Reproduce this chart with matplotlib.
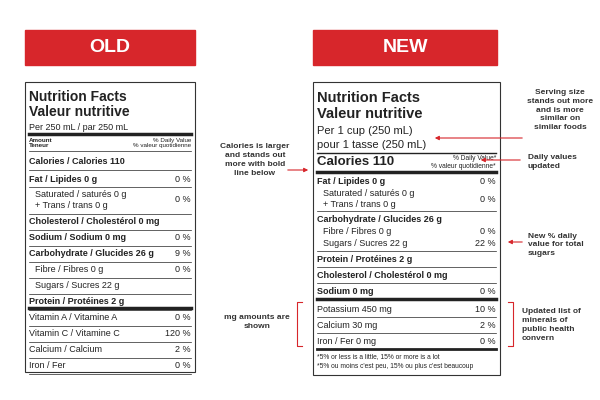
import matplotlib
matplotlib.use("Agg")
import matplotlib.pyplot as plt
from matplotlib.patches import Rectangle

banners = ["OLD", "NEW"]
old_rows = [("Fat / Lipides 0 g", "0 %"), ("Cholesterol / Cholestérol 0 mg", ""),
            ("Sodium / Sodium 0 mg", "0 %"), ("Carbohydrate / Glucides 26 g", "9 %"),
            ("Fibre / Fibres 0 g", "0 %"), ("Sugars / Sucres 22 g", ""),
            ("Protein / Protéines 2 g", "")]
old_vits = [("Vitamin A / Vitamine A", "0 %"), ("Vitamin C / Vitamine C", "120 %"),
            ("Calcium / Calcium", "2 %"), ("Iron / Fer", "0 %")]
new_rows = [("Carbohydrate / Glucides 26 g", ""), ("Fibre / Fibres 0 g", "0 %"),
            ("Sugars / Sucres 22 g", "22 %"), ("Protein / Protéines 2 g", ""),
            ("Cholesterol / Cholestérol 0 mg", ""), ("Sodium 0 mg", "0 %")]
new_mins = [("Potassium 450 mg", "10 %"), ("Calcium 30 mg", "2 %"), ("Iron / Fer 0 mg", "0 %")]
notes = ["Serving size\nstands out more\nand is more\nsimilar on\nsimilar foods", "Daily values\nupdated",
         "New % daily\nvalue for total\nsugars", "Updated list of\nminerals of\npublic health\nconvern",
         "Calories is larger\nand stands out\nmore with bold\nline below", "mg amounts are\nshown"]

fig = plt.figure(figsize=(6, 4), dpi=100)
ax = fig.add_axes([0, 0, 1, 1])
ax.set_xlim(0, 600); ax.set_ylim(400, 0); ax.axis("off")
RED = "#d7262b"

def T(x, y, s, size=6.5, w="normal", ha="left", c="#222", **k):
    ax.text(x, y, s, fontsize=size, fontweight=w, ha=ha, va="center", color=c, family="Liberation Sans", **k)

def L(x0, x1, y, lw=0.5):
    ax.plot([x0, x1], [y, y], color="#222", lw=lw)

for (x0, x1), b in zip([(25, 195), (313, 497)], banners):
    ax.add_patch(Rectangle((x0, 30), x1 - x0, 35, color=RED))
    T((x0 + x1) / 2, 48, b, size=14, w="bold", ha="center", c="white")

# OLD label
a, b = 25, 195
ax.add_patch(Rectangle((a, 82), b - a, 290, fill=False, ec="#333", lw=0.8))
a += 4; b -= 4
T(a, 97, "Nutrition Facts", 10, "bold"); T(a, 112, "Valeur nutritive", 10, "bold")
T(a, 127, "Per 250 mL / par 250 mL", 6.5)
L(a, b, 134, 2.5)
T(a, 143, "Amount\nTeneur", 4.5, "bold"); T(b, 143, "% Daily Value\n% valeur quotidienne", 4.5, ha="right")
L(a, b, 151)
T(a, 162, "Calories / Calories 110", 6.5, "bold"); L(a, b, 170)
T(a, 179, old_rows[0][0], 6.5, "bold"); T(b, 179, old_rows[0][1], 6.5, ha="right"); L(a, b, 187)
T(a + 6, 200, "Saturated / saturés 0 g\n+ Trans / trans 0 g", 6.5); T(b, 200, "0 %", 6.5, ha="right"); L(a, b, 214)
y = 222
for i, (n, v) in enumerate(old_rows[1:]):
    ind = 6 if n.startswith(("Fibre", "Sugars")) else 0
    T(a + ind, y, n, 6.5, "normal" if ind else "bold"); T(b, y, v, 6.5, ha="right")
    L(a, b, y + 8); y += 16
L(a, b, 308, 2.5)
y = 318
for n, v in old_vits:
    T(a, y, n, 6.5); T(b, y, v, 6.5, ha="right"); L(a, b, y + 8); y += 16

# NEW label
a, b = 313, 500
ax.add_patch(Rectangle((a, 82), b - a, 293, fill=False, ec="#333", lw=0.8))
a += 4; b -= 4
T(a, 98, "Nutrition Facts", 10.5, "bold"); T(a, 114, "Valeur nutritive", 10.5, "bold")
T(a, 131, "Per 1 cup (250 mL)", 8); T(a, 145, "pour 1 tasse (250 mL)", 8)
L(a, b, 153, 1)
T(a, 162, "Calories 110", 9.5, "bold")
T(b, 159, "% Daily Value*", 4.8, ha="right"); T(b, 166, "% valeur quotidienne*", 4.8, ha="right")
L(a, b, 172, 2.5)
T(a, 181, "Fat / Lipides 0 g", 6.5, "bold"); T(b, 181, "0 %", 6.5, ha="right")
T(a + 6, 199, "Saturated / saturés 0 g\n+ Trans / trans 0 g", 6.5); T(b, 199, "0 %", 6.5, ha="right"); L(a, b, 211)
y = 219
for n, v in new_rows:
    ind = 6 if n.startswith(("Fibre", "Sugars")) else 0
    T(a + ind, y, n, 6.5, "normal" if ind else "bold"); T(b, y, v, 6.5, ha="right")
    if not n.startswith(("Carbo", "Fibre")):
        L(a, b, y + 8)
    y += 12 if n.startswith(("Carbo", "Fibre")) else 16
L(a, b, 299, 2.5)
y = 309
for n, v in new_mins:
    T(a, y, n, 6.5); T(b, y, v, 6.5, ha="right"); L(a, b, y + 8, 0.5 if n[0] != "I" else 2); y += 16
T(a, 357, "*5% or less is a little, 15% or more is a lot", 4.8)
T(a, 366, "*5% ou moins c'est peu, 15% ou plus c'est beaucoup", 4.8)

# annotations
kw = dict(arrowprops=dict(arrowstyle="-|>", color=RED, lw=0.8, mutation_scale=6))
ls = 1.35
T(560, 110, notes[0], 6, "bold", ha="center", c="#333", linespacing=ls)
ax.annotate("", xy=(432, 138), xytext=(525, 138), **kw)
T(528, 162, notes[1], 6, "bold", c="#333", linespacing=ls)
ax.annotate("", xy=(478, 160), xytext=(523, 160), **kw)
T(528, 245, notes[2], 6, "bold", c="#333", linespacing=ls)
ax.annotate("", xy=(505, 242), xytext=(525, 242), **kw)
T(522, 325, notes[3], 6, "bold", c="#333", linespacing=ls)
ax.plot([508, 513, 513, 508], [302, 302, 346, 346], color=RED, lw=0.8)
T(255, 160, notes[4], 6, "bold", ha="center", c="#333", linespacing=ls)
ax.annotate("", xy=(311, 170), xytext=(285, 170), **kw)
T(257, 322, notes[5], 6, "bold", ha="center", c="#333", linespacing=ls)
ax.plot([302, 297, 297, 302], [302, 302, 346, 346], color=RED, lw=0.8)

fig.savefig("out.png", dpi=100, facecolor="white")
